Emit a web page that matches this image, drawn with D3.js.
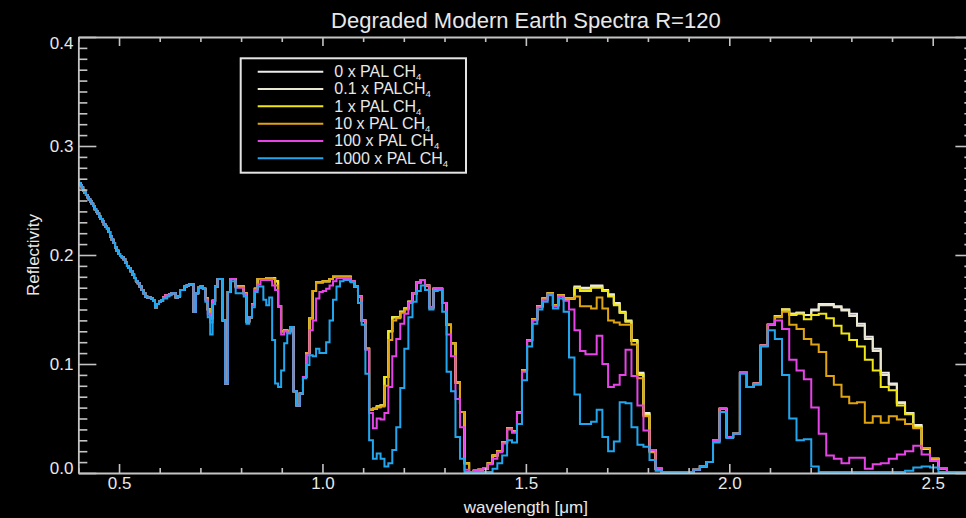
<!DOCTYPE html>
<html>
<head>
<meta charset="utf-8">
<script src="https://cdn.jsdelivr.net/npm/d3@7"></script>
<style>
  html, body { margin: 0; padding: 0; background: #000; overflow: hidden; }
  svg { display: block; }
  text { font-family: "Liberation Sans", Arial, Helvetica, sans-serif; fill: #e8e8e8; }
</style>
</head>
<body>
<svg id="chart" width="966" height="518"></svg>
<script>
// ---- Spectral sampling: one bin per lambda/R, starting at 0.4 um ----
const RESOLVING_POWER = 120;
const LAMBDA_START = 0.4;

// ---- Reflectivity per spectral bin, one array per methane abundance ----
const reflect0x = [
  0.268,0.266,0.264,0.262,0.259,0.257,0.255,0.253,0.251,0.249,
  0.247,0.245,0.242,0.240,0.238,0.235,0.233,0.231,0.228,0.226,
  0.224,0.221,0.217,0.214,0.211,0.207,0.204,0.201,0.199,0.198,
  0.196,0.193,0.190,0.188,0.185,0.182,0.179,0.176,0.174,0.171,
  0.168,0.165,0.162,0.161,0.161,0.160,0.158,0.152,0.155,0.157,
  0.158,0.161,0.163,0.163,0.164,0.165,0.165,0.161,0.162,0.168,
  0.168,0.171,0.172,0.173,0.173,0.148,0.165,0.170,0.171,0.169,
  0.160,0.150,0.142,0.158,0.171,0.178,0.178,0.140,0.082,0.166,
  0.178,0.178,0.171,0.171,0.171,0.165,0.139,0.143,0.155,0.169,
  0.178,0.178,0.178,0.179,0.179,0.179,0.176,0.153,0.130,0.131,
  0.130,0.134,0.075,0.062,0.073,0.088,0.110,0.142,0.167,0.175,
  0.175,0.176,0.176,0.178,0.180,0.180,0.180,0.180,0.180,0.176,
  0.171,0.162,0.140,0.114,0.058,0.059,0.061,0.062,0.088,0.130,
  0.143,0.143,0.148,0.151,0.157,0.165,0.175,0.177,0.172,0.152,
  0.169,0.169,0.156,0.136,0.119,0.083,0.056,0.009,0.001,0.002,
  0.003,0.004,0.009,0.016,0.020,0.028,0.041,0.038,0.056,0.094,
  0.122,0.141,0.153,0.160,0.165,0.154,0.163,0.160,0.160,0.171,
  0.170,0.170,0.172,0.172,0.168,0.164,0.156,0.148,0.140,0.122,
  0.092,0.055,0.021,0.004,0.001,0.001,0.001,0.001,0.001,0.003,
  0.006,0.010,0.030,0.059,0.033,0.036,0.092,0.079,0.082,0.117,
  0.136,0.144,0.150,0.146,0.147,0.145,0.150,0.155,0.155,0.153,
  0.150,0.146,0.137,0.125,0.114,0.092,0.082,0.065,0.055,0.044,
  0.023,0.013,0.004,0.001,0.001,0.001
];

const reflect01x = [
  0.268,0.266,0.264,0.262,0.259,0.257,0.255,0.253,0.251,0.249,
  0.247,0.245,0.242,0.240,0.238,0.235,0.233,0.231,0.228,0.226,
  0.224,0.221,0.217,0.214,0.211,0.207,0.204,0.201,0.199,0.198,
  0.196,0.193,0.190,0.188,0.185,0.182,0.179,0.176,0.174,0.171,
  0.168,0.165,0.162,0.161,0.161,0.160,0.158,0.152,0.155,0.157,
  0.158,0.161,0.163,0.163,0.164,0.165,0.165,0.161,0.162,0.168,
  0.168,0.171,0.172,0.173,0.173,0.148,0.165,0.170,0.171,0.169,
  0.160,0.150,0.142,0.158,0.171,0.178,0.178,0.140,0.082,0.166,
  0.178,0.178,0.171,0.171,0.171,0.165,0.139,0.143,0.155,0.169,
  0.178,0.178,0.178,0.179,0.179,0.179,0.176,0.153,0.130,0.131,
  0.130,0.134,0.075,0.062,0.073,0.088,0.110,0.142,0.167,0.175,
  0.175,0.176,0.176,0.178,0.180,0.180,0.180,0.180,0.180,0.176,
  0.171,0.162,0.140,0.114,0.058,0.059,0.061,0.062,0.088,0.130,
  0.143,0.143,0.148,0.151,0.157,0.165,0.175,0.177,0.172,0.152,
  0.169,0.169,0.156,0.136,0.119,0.083,0.056,0.009,0.001,0.002,
  0.003,0.004,0.009,0.016,0.020,0.028,0.041,0.038,0.056,0.094,
  0.122,0.141,0.153,0.160,0.165,0.154,0.163,0.160,0.160,0.170,
  0.169,0.169,0.171,0.171,0.167,0.163,0.155,0.147,0.139,0.121,
  0.091,0.054,0.021,0.004,0.001,0.001,0.001,0.001,0.001,0.003,
  0.006,0.010,0.030,0.059,0.033,0.036,0.092,0.079,0.082,0.117,
  0.136,0.144,0.150,0.146,0.147,0.145,0.149,0.154,0.154,0.152,
  0.149,0.144,0.135,0.123,0.112,0.090,0.081,0.064,0.055,0.043,
  0.023,0.013,0.004,0.001,0.001,0.001
];

const reflect1x = [
  0.268,0.266,0.264,0.262,0.259,0.257,0.255,0.253,0.251,0.249,
  0.247,0.245,0.242,0.240,0.238,0.235,0.233,0.231,0.228,0.226,
  0.224,0.221,0.217,0.214,0.211,0.207,0.204,0.201,0.199,0.198,
  0.196,0.193,0.190,0.188,0.185,0.182,0.179,0.176,0.174,0.171,
  0.168,0.165,0.162,0.161,0.161,0.160,0.158,0.152,0.155,0.157,
  0.158,0.161,0.163,0.163,0.164,0.165,0.165,0.161,0.162,0.168,
  0.168,0.171,0.172,0.173,0.173,0.148,0.165,0.170,0.171,0.169,
  0.160,0.150,0.142,0.158,0.171,0.178,0.178,0.140,0.082,0.166,
  0.178,0.178,0.171,0.171,0.171,0.165,0.139,0.143,0.155,0.169,
  0.178,0.178,0.178,0.179,0.179,0.179,0.176,0.153,0.130,0.131,
  0.130,0.134,0.075,0.062,0.073,0.088,0.110,0.142,0.167,0.175,
  0.175,0.176,0.176,0.178,0.180,0.180,0.180,0.180,0.180,0.176,
  0.171,0.162,0.140,0.114,0.058,0.059,0.061,0.062,0.088,0.130,
  0.143,0.143,0.148,0.151,0.157,0.165,0.175,0.177,0.172,0.152,
  0.169,0.169,0.156,0.136,0.119,0.083,0.056,0.009,0.001,0.002,
  0.003,0.004,0.009,0.016,0.020,0.028,0.041,0.038,0.056,0.094,
  0.122,0.141,0.153,0.160,0.165,0.154,0.163,0.160,0.160,0.170,
  0.167,0.167,0.170,0.170,0.167,0.162,0.154,0.147,0.139,0.121,
  0.090,0.053,0.020,0.004,0.001,0.001,0.001,0.001,0.001,0.003,
  0.006,0.010,0.030,0.059,0.033,0.036,0.092,0.079,0.082,0.117,
  0.136,0.144,0.150,0.145,0.146,0.141,0.145,0.146,0.142,0.135,
  0.128,0.122,0.116,0.104,0.094,0.079,0.076,0.062,0.054,0.042,
  0.022,0.013,0.004,0.001,0.001,0.001
];

const reflect10x = [
  0.268,0.266,0.264,0.262,0.259,0.257,0.255,0.253,0.251,0.249,
  0.247,0.245,0.242,0.240,0.238,0.235,0.233,0.231,0.228,0.226,
  0.224,0.221,0.217,0.214,0.211,0.207,0.204,0.201,0.199,0.198,
  0.196,0.193,0.190,0.188,0.185,0.182,0.179,0.176,0.174,0.171,
  0.168,0.165,0.162,0.161,0.161,0.160,0.158,0.152,0.155,0.157,
  0.158,0.161,0.163,0.163,0.164,0.165,0.165,0.161,0.162,0.168,
  0.168,0.171,0.172,0.173,0.173,0.148,0.165,0.170,0.171,0.169,
  0.160,0.150,0.142,0.158,0.171,0.178,0.178,0.140,0.082,0.166,
  0.178,0.178,0.171,0.171,0.171,0.165,0.139,0.143,0.155,0.169,
  0.178,0.178,0.178,0.179,0.179,0.178,0.172,0.153,0.130,0.131,
  0.130,0.134,0.075,0.062,0.073,0.088,0.110,0.142,0.167,0.175,
  0.175,0.176,0.176,0.178,0.180,0.180,0.180,0.180,0.180,0.176,
  0.171,0.162,0.140,0.114,0.058,0.059,0.060,0.061,0.080,0.122,
  0.140,0.142,0.147,0.150,0.157,0.165,0.175,0.177,0.172,0.152,
  0.169,0.169,0.156,0.136,0.119,0.083,0.056,0.009,0.001,0.002,
  0.003,0.004,0.009,0.016,0.020,0.028,0.041,0.038,0.056,0.094,
  0.122,0.141,0.153,0.160,0.165,0.154,0.163,0.160,0.160,0.162,
  0.153,0.153,0.151,0.161,0.151,0.140,0.138,0.136,0.136,0.118,
  0.087,0.052,0.019,0.004,0.001,0.001,0.001,0.001,0.001,0.003,
  0.006,0.010,0.030,0.059,0.033,0.036,0.092,0.079,0.082,0.117,
  0.136,0.143,0.148,0.136,0.132,0.123,0.118,0.111,0.089,0.081,
  0.070,0.064,0.065,0.046,0.052,0.046,0.052,0.049,0.045,0.041,
  0.023,0.013,0.004,0.001,0.001,0.001
];

const reflect100x = [
  0.268,0.266,0.264,0.262,0.259,0.257,0.255,0.253,0.251,0.249,
  0.247,0.245,0.242,0.240,0.238,0.235,0.233,0.231,0.228,0.226,
  0.224,0.221,0.217,0.214,0.211,0.207,0.204,0.201,0.199,0.198,
  0.196,0.193,0.190,0.188,0.185,0.182,0.179,0.176,0.174,0.171,
  0.168,0.165,0.162,0.161,0.161,0.160,0.158,0.152,0.155,0.157,
  0.158,0.161,0.163,0.163,0.164,0.165,0.165,0.161,0.162,0.168,
  0.168,0.171,0.172,0.173,0.173,0.148,0.165,0.170,0.171,0.169,
  0.159,0.146,0.138,0.158,0.171,0.178,0.178,0.140,0.082,0.166,
  0.178,0.178,0.170,0.170,0.170,0.164,0.139,0.143,0.154,0.168,
  0.173,0.177,0.177,0.177,0.177,0.172,0.168,0.153,0.127,0.130,
  0.129,0.134,0.075,0.062,0.073,0.088,0.108,0.131,0.140,0.160,
  0.166,0.167,0.169,0.172,0.176,0.179,0.179,0.179,0.179,0.176,
  0.171,0.162,0.140,0.113,0.055,0.041,0.050,0.049,0.055,0.079,
  0.107,0.123,0.137,0.146,0.156,0.165,0.175,0.177,0.172,0.152,
  0.169,0.169,0.156,0.127,0.107,0.068,0.042,0.003,0.001,0.002,
  0.003,0.004,0.008,0.013,0.019,0.027,0.040,0.037,0.055,0.093,
  0.121,0.140,0.152,0.159,0.164,0.153,0.162,0.158,0.150,0.131,
  0.112,0.109,0.109,0.126,0.100,0.079,0.081,0.090,0.113,0.089,
  0.062,0.039,0.021,0.004,0.001,0.001,0.001,0.001,0.001,0.003,
  0.006,0.010,0.030,0.059,0.033,0.036,0.092,0.079,0.082,0.117,
  0.136,0.140,0.132,0.104,0.094,0.086,0.060,0.036,0.016,0.013,
  0.009,0.014,0.014,0.004,0.008,0.009,0.013,0.017,0.020,0.025,
  0.017,0.011,0.004,0.001,0.001,0.001
];

const reflect1000x = [
  0.268,0.266,0.264,0.262,0.259,0.257,0.255,0.253,0.251,0.249,
  0.247,0.245,0.242,0.240,0.238,0.235,0.233,0.231,0.228,0.226,
  0.224,0.221,0.217,0.214,0.211,0.207,0.204,0.201,0.199,0.198,
  0.196,0.193,0.190,0.188,0.185,0.182,0.179,0.176,0.174,0.171,
  0.168,0.165,0.162,0.161,0.161,0.160,0.158,0.152,0.155,0.157,
  0.158,0.160,0.160,0.162,0.163,0.165,0.165,0.161,0.162,0.168,
  0.168,0.171,0.172,0.173,0.173,0.148,0.165,0.170,0.171,0.169,
  0.157,0.143,0.127,0.155,0.171,0.178,0.178,0.140,0.082,0.166,
  0.176,0.176,0.165,0.165,0.165,0.162,0.137,0.143,0.152,0.166,
  0.171,0.171,0.159,0.154,0.161,0.122,0.082,0.079,0.094,0.119,
  0.128,0.134,0.075,0.062,0.073,0.087,0.099,0.108,0.107,0.114,
  0.110,0.110,0.120,0.140,0.159,0.171,0.176,0.177,0.177,0.175,
  0.171,0.156,0.136,0.091,0.030,0.013,0.018,0.013,0.006,0.009,
  0.021,0.042,0.078,0.114,0.143,0.157,0.167,0.172,0.168,0.150,
  0.167,0.168,0.148,0.093,0.075,0.033,0.013,0.001,0.001,0.001,
  0.001,0.001,0.001,0.004,0.009,0.016,0.030,0.028,0.045,0.085,
  0.116,0.137,0.150,0.157,0.163,0.151,0.160,0.148,0.106,0.072,
  0.045,0.045,0.047,0.058,0.033,0.020,0.029,0.065,0.064,0.042,
  0.026,0.024,0.012,0.002,0.001,0.001,0.001,0.001,0.001,0.003,
  0.006,0.010,0.028,0.056,0.032,0.036,0.091,0.079,0.081,0.116,
  0.131,0.123,0.090,0.050,0.030,0.031,0.006,0.001,0.001,0.001,
  0.001,0.001,0.001,0.001,0.001,0.001,0.001,0.001,0.002,0.005,
  0.006,0.005,0.001,0.001,0.001,0.001
];

// Legend labels: stem text followed by a subscript
const legendStems = ["0 x PAL CH", "0.1 x PALCH", "1 x PAL CH", "10 x PAL CH", "100 x PAL CH", "1000 x PAL CH"];
const legendSubscript = "4";

// Axis ticks
const xMajorTicks = [0.5, 1.0, 1.5, 2.0, 2.5];
const yMajorTicks = [0.0, 0.1, 0.2, 0.3, 0.4];

const titleText = "Degraded Modern Earth Spectra R=120";
const xLabelText = "wavelength [\u03BCm]";
const yLabelText = "Reflectivity";

// ---- Styles ----
const seriesColors = ["#ececec", "#e9e7cf", "#f0e614", "#e0a410", "#e644e6", "#22a6ee"];
const axisColor = "#c4c4c4";

// ---- Assemble series ----
const seriesValues = [reflect0x, reflect01x, reflect1x, reflect10x, reflect100x, reflect1000x];
const wavelength = reflect0x.map((_, k) => LAMBDA_START * Math.pow(1 + 1 / RESOLVING_POWER, k));
const series = seriesValues.map((vals, i) => ({
  color: seriesColors[i],
  points: vals.map((v, k) => [wavelength[k], v])
}));

// ---- Layout ----
const svg = d3.select("#chart");
const W = 966, H = 518;
svg.append("rect").attr("width", W).attr("height", H).attr("fill", "#000");

const x = d3.scaleLinear().domain([0.4, 2.6]).range([78.35, 973.4]);
const y = d3.scaleLinear().domain([0, 0.4]).range([473, 37]);

const xMinorTicks = d3.range(4, 27).map(d => d / 10).filter(d => !xMajorTicks.some(m => Math.abs(m - d) < 1e-9));
const yMinorTicks = d3.range(0, 41).map(d => d / 100).filter(d => !yMajorTicks.some(m => Math.abs(m - d) < 1e-9));

// ---- Spectra (step plots) ----
const line = d3.line()
  .x(d => x(d[0]))
  .y(d => y(d[1]))
  .curve(d3.curveStep);

svg.append("g")
  .selectAll("path")
  .data(series)
  .join("path")
  .attr("d", d => line(d.points))
  .attr("fill", "none")
  .attr("stroke", d => d.color)
  .attr("stroke-width", 2)
  .attr("stroke-linejoin", "miter");

// ---- Axes ----
function styleAxis(g) {
  g.selectAll(".domain").attr("stroke", axisColor).attr("stroke-width", 1.8);
  g.selectAll(".tick line").attr("stroke", axisColor).attr("stroke-width", 1.6);
  g.selectAll(".tick text")
    .attr("fill", "#e8e8e8")
    .style("font-family", '"Liberation Sans", Arial, Helvetica, sans-serif')
    .style("font-size", "17px");
}

// bottom
svg.append("g")
  .attr("transform", `translate(0,${y(0)})`)
  .call(d3.axisBottom(x).tickValues(xMajorTicks).tickSize(-9).tickSizeOuter(0).tickPadding(3.5).tickFormat(d3.format(".1f")))
  .call(styleAxis);
svg.append("g")
  .attr("transform", `translate(0,${y(0)})`)
  .call(d3.axisBottom(x).tickValues(xMinorTicks).tickSize(-5).tickSizeOuter(0).tickFormat(""))
  .call(styleAxis)
  .call(g => g.select(".domain").remove());

// top
svg.append("g")
  .attr("transform", `translate(0,${y(0.4)})`)
  .call(d3.axisTop(x).tickValues(xMajorTicks).tickSize(-9).tickSizeOuter(0).tickFormat(""))
  .call(styleAxis);
svg.append("g")
  .attr("transform", `translate(0,${y(0.4)})`)
  .call(d3.axisTop(x).tickValues(xMinorTicks).tickSize(-5).tickSizeOuter(0).tickFormat(""))
  .call(styleAxis)
  .call(g => g.select(".domain").remove());

// left
svg.append("g")
  .attr("transform", `translate(${x(0.4)},0)`)
  .call(d3.axisLeft(y).tickValues(yMajorTicks).tickSize(-18).tickSizeOuter(0).tickPadding(5).tickFormat(d3.format(".1f")))
  .call(styleAxis)
  .call(g => g.selectAll(".tick text")
    .attr("y", d => d === 0.4 ? 6 : (d === 0 ? -5 : 0)));
svg.append("g")
  .attr("transform", `translate(${x(0.4)},0)`)
  .call(d3.axisLeft(y).tickValues(yMinorTicks).tickSize(-9).tickSizeOuter(0).tickFormat(""))
  .call(styleAxis)
  .call(g => g.select(".domain").remove());

// right
svg.append("g")
  .attr("transform", `translate(${x(2.6)},0)`)
  .call(d3.axisRight(y).tickValues(yMajorTicks).tickSize(-18).tickSizeOuter(0).tickFormat(""))
  .call(styleAxis);
svg.append("g")
  .attr("transform", `translate(${x(2.6)},0)`)
  .call(d3.axisRight(y).tickValues(yMinorTicks).tickSize(-9).tickSizeOuter(0).tickFormat(""))
  .call(styleAxis)
  .call(g => g.select(".domain").remove());

// ---- Titles ----
const plotCenterX = (x.range()[0] + x.range()[1]) / 2;
svg.append("text")
  .attr("x", plotCenterX)
  .attr("y", 28)
  .attr("text-anchor", "middle")
  .style("font-size", "22px")
  .text(titleText);

svg.append("text")
  .attr("x", plotCenterX)
  .attr("y", 513)
  .attr("text-anchor", "middle")
  .style("font-size", "17px")
  .text(xLabelText);

svg.append("text")
  .attr("transform", `translate(38.5,${(y(0) + y(0.4)) / 2}) rotate(-90)`)
  .attr("text-anchor", "middle")
  .style("font-size", "17px")
  .text(yLabelText);

// ---- Legend ----
const legend = svg.append("g");
legend.append("rect")
  .attr("x", 240.7).attr("y", 58.3)
  .attr("width", 225.3).attr("height", 114.4)
  .attr("fill", "#000")
  .attr("stroke", "#e4e4e4")
  .attr("stroke-width", 2);

const rowY = d3.scaleLinear().domain([0, legendStems.length - 1]).range([71.7, 158.3]);
const rows = legend.selectAll("g.row")
  .data(legendStems)
  .join("g")
  .attr("class", "row")
  .attr("transform", (d, i) => `translate(0,${rowY(i)})`);

rows.append("line")
  .attr("x1", 257.7).attr("x2", 323.3)
  .attr("y1", 0).attr("y2", 0)
  .attr("stroke", (d, i) => seriesColors[i])
  .attr("stroke-width", 2);

const labels = rows.append("text")
  .attr("x", 334.3)
  .attr("y", 5.4)
  .style("font-size", "16px");
labels.append("tspan").text(d => d);
labels.append("tspan")
  .attr("dy", 3)
  .style("font-size", "9.5px")
  .text(legendSubscript);
</script>
</body>
</html>
